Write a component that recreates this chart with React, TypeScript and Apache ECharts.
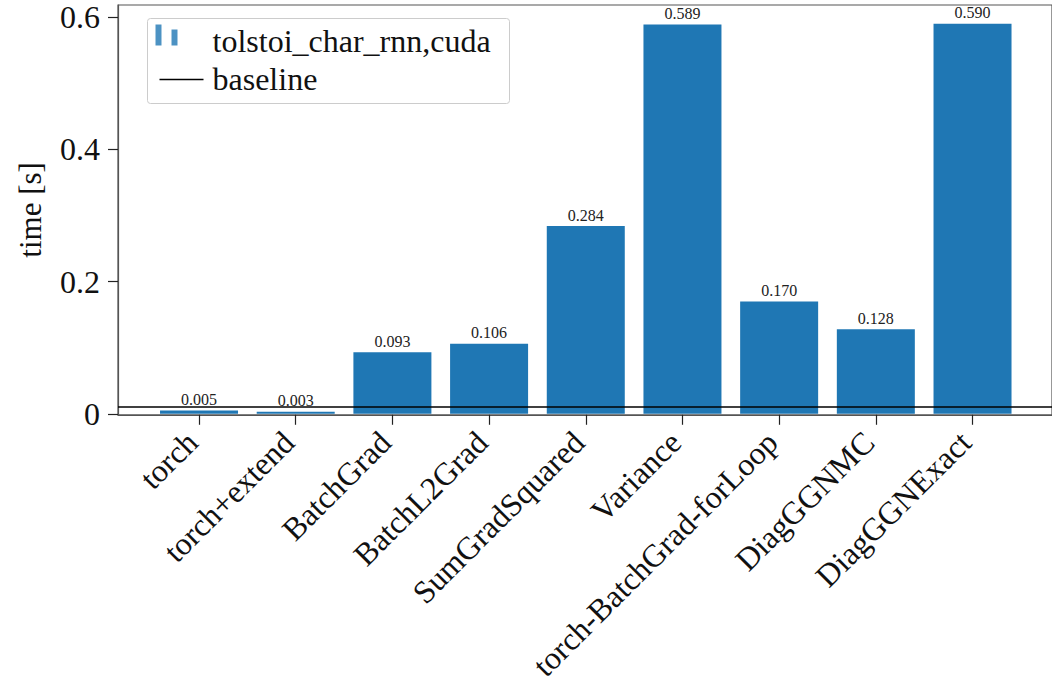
import React, { useEffect, useRef } from "react";
import * as echarts from "echarts";

const categories = [
  "torch",
  "torch+extend",
  "BatchGrad",
  "BatchL2Grad",
  "SumGradSquared",
  "Variance",
  "torch-BatchGrad-forLoop",
  "DiagGGNMC",
  "DiagGGNExact",
];
const times = [0.005, 0.003, 0.093, 0.106, 0.284, 0.589, 0.17, 0.128, 0.59];
const baselineValue = [0.005];
const yTicks = [0, 0.2, 0.4, 0.6];
const seriesName = "tolstoi_char_rnn,cuda";
const baselineName = "baseline";

const FONT = "'Liberation Serif', 'DejaVu Serif', serif";

export default function App() {
  const ref = useRef<HTMLDivElement>(null);
  useEffect(() => {
    if (!ref.current) return;
    const chart = echarts.init(ref.current, undefined, { renderer: "svg" });
    const xIdx = categories.map((_, i) => i);
    chart.setOption({
      animation: false,
      backgroundColor: "#ffffff",
      textStyle: { fontFamily: FONT },
      grid: {
        left: 118,
        right: -3,
        top: 5,
        bottom: 269,
        show: true,
        borderColor: "#555",
        borderWidth: 1.2,
      },
      xAxis: {
        type: "value",
        min: -0.838,
        max: 8.822,
        axisLine: { show: true, onZero: false, lineStyle: { color: "#555", width: 1.2 } },
        splitLine: { show: false },
        axisTick: {
          show: true,
          length: 10,
          customValues: xIdx,
          lineStyle: { color: "#222", width: 1.2 },
        },
        axisLabel: {
          customValues: xIdx,
          rotate: 45,
          margin: 15,
          padding: [0, 10, 0, 0],
          fontSize: 32,
          color: "#111",
          fontFamily: FONT,
          formatter: (v: number) => categories[Math.round(v)] ?? "",
        },
      },
      yAxis: {
        type: "value",
        min: -0.0015,
        max: 0.6185,
        name: "time [s]",
        nameLocation: "middle",
        nameRotate: 90,
        nameGap: 72,
        nameTextStyle: { fontSize: 31, color: "#111", fontFamily: FONT },
        axisLine: { show: true, onZero: false, lineStyle: { color: "#555", width: 1.2 } },
        splitLine: { show: false },
        axisTick: {
          show: true,
          length: 10,
          customValues: yTicks,
          lineStyle: { color: "#222", width: 1.2 },
        },
        axisLabel: {
          customValues: yTicks,
          margin: 18,
          fontSize: 32,
          color: "#111",
          fontFamily: FONT,
          formatter: (v: number) => (v === 0 ? "0" : String(Math.round(v * 10) / 10)),
        },
      },
      series: [
        {
          type: "bar",
          name: seriesName,
          barWidth: 78,
          data: times.map((t, i) => [i, t]),
          itemStyle: { color: "#1f77b4" },
          label: {
            show: true,
            position: "top",
            distance: 3,
            fontSize: 16,
            color: "#222",
            fontFamily: FONT,
            formatter: (p: any) => (p.value[1] as number).toFixed(3),
          },
          markLine: {
            silent: true,
            symbol: ["none", "none"],
            label: { show: false },
            lineStyle: { color: "#000", width: 1.5, type: "solid" },
            data: baselineValue.map((v) => ({ yAxis: v, name: baselineName })),
          },
        },
      ],
      graphic: [
        {
          type: "group",
          left: 147,
          top: 18,
          children: [
            {
              type: "rect",
              shape: { x: 0, y: 0, width: 362, height: 85, r: 3 },
              style: { fill: "rgba(255,255,255,0.8)", stroke: "#cccccc", lineWidth: 1 },
            },
            {
              type: "rect",
              shape: { x: 8, y: 6, width: 6, height: 21 },
              style: { fill: "#4c92c3" },
            },
            {
              type: "rect",
              shape: { x: 24, y: 11, width: 6, height: 16 },
              style: { fill: "#4c92c3" },
            },
            {
              type: "text",
              x: 65,
              y: 22,
              style: {
                text: seriesName,
                font: `32px ${FONT}`,
                fill: "#111",
                textVerticalAlign: "middle",
              },
            },
            {
              type: "line",
              shape: { x1: 12, y1: 61, x2: 56, y2: 61 },
              style: { stroke: "#000", lineWidth: 1.5 },
            },
            {
              type: "text",
              x: 65,
              y: 60,
              style: {
                text: baselineName,
                font: `32px ${FONT}`,
                fill: "#111",
                textVerticalAlign: "middle",
              },
            },
          ],
        },
      ],
    });
    return () => chart.dispose();
  }, []);
  return (
    <div
      ref={ref}
      style={{ position: "fixed", left: 0, top: 0, width: 1052, height: 684 }}
    />
  );
}
